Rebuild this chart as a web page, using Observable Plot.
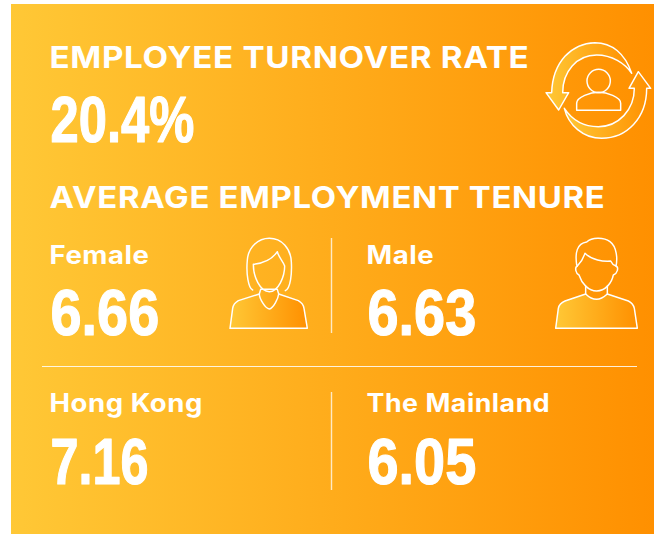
<!DOCTYPE html>
<html>
<head>
<meta charset="utf-8">
<style>html,body{margin:0;padding:0;background:#fff;overflow:hidden}svg{display:block}</style>
<script src="https://cdn.jsdelivr.net/npm/d3@7"></script>
<script src="https://cdn.jsdelivr.net/npm/@observablehq/plot@0.6"></script>
</head>
<body>
<script>
// Values
const headings = ["EMPLOYEE TURNOVER RATE", "AVERAGE EMPLOYMENT TENURE"];
const turnover = "20.4%";
const categories = ["Female", "Male", "Hong Kong", "The Mainland"];
const tenure = ["6.66", "6.63", "7.16", "6.05"];

// Layout (panel pixels)
const W = 654, H = 534;
const colX = [49, 366, 49, 366];
const labelY = [263, 263, 411, 411];
const valueY = [334, 334, 483, 483];
const headingY = [67.5, 207.5];
const headingStretch = [1.125, 1.115];
const labelStretch = [1.1, 1.1, 1.1, 1.07];
const valueStretch = [0.86, 0.86, 0.775, 0.86];

const row = categories.map((c, i) => ({label: c, value: tenure[i], x: colX[i], ly: labelY[i], vy: valueY[i]}));
const heads = headings.map((h, i) => ({h, y: headingY[i]}));

const stretch = (sx, spacing) => (index, scales, values, dims, ctx, next) => {
  const g = next(index, scales, values, dims, ctx);
  if (spacing) g.style.letterSpacing = spacing;
  g.querySelectorAll("text").forEach((t, i) => {
    const k = index[i], x = values.x[k], y = values.y[k];
    t.setAttribute("transform", `translate(${x},${y}) scale(${sx[k]},1)`);
  });
  return g;
};

const icon = (dx, dy, parts) => () => {
  const g = d3.create("svg:g").attr("transform", `translate(${dx},${dy}) scale(${1/3})`)
    .attr("stroke", "#fff").attr("stroke-width", 4.4).attr("stroke-linejoin", "round").attr("stroke-linecap","round");
  parts.forEach(([d, fill]) => g.append("path").attr("d", d).attr("fill", fill ? "url(#grad)" : "none"));
  return g.node();
};

const defs = () => {
  const s = d3.create("svg:defs");
  const lg = s.append("linearGradient").attr("id", "grad");
  lg.append("stop").attr("offset", "0%").attr("stop-color", "#ffc836");
  lg.append("stop").attr("offset", "100%").attr("stop-color", "#ff9000");
  return s.node();
};

const turnoverIcon = [
  ["M305,130 C285,70 245,38 195,38 C125,40 68,95 65,188 L48,188 L86,240 L116,188 L98,188 C98,125 140,75 200,75 C245,75 285,100 305,130 Z", true],
  ["M103,235 C130,275 165,290 205,290 C265,290 313,240 313,175 L297,175 L325,125 L362,175 L350,175 C350,265 290,325 215,325 C160,325 115,285 103,235 Z", true],
  ["M241,153 A35,35 0 1 1 171,153 A35,35 0 1 1 241,153 Z", false],
  ["M140,241 L272,241 L272,220 C272,200 230,187 206,187 C182,187 140,200 140,220 Z", false]
];
const femaleIcon = [
  ["M30,295 L262,295 L252,235 C250,222 242,216 235,212 L176,192 L172,178 L122,178 L118,192 L55,212 C48,216 40,222 38,235 Z", true],
  ["M118,192 C118,205 135,235 148,237 C160,235 175,205 176,192", false],
  ["M98,180 C85,175 78,130 82,90 C85,50 115,25 148,25 C185,25 212,55 214,95 C216,130 212,175 196,182", false],
  ["M100,103 C130,100 155,90 172,65 C175,80 190,95 194,108 C194,140 175,185 148,185 C120,185 100,140 100,103 Z", false]
];
const maleIcon = [
  ["M32,295 L277,295 L268,235 C265,222 258,217 250,213 L187,192 C178,200 165,208 155,208 C145,208 130,200 122,192 L60,213 C50,217 42,225 40,235 Z", true],
  ["M122,168 L122,192 M187,168 L187,192", false],
  ["M95,105 C90,70 95,40 125,36 C140,22 175,20 195,35 C215,50 218,85 213,108 C205,105 200,100 197,93 C175,95 140,90 120,70 C115,85 105,100 97,108", false],
  ["M97,108 C88,112 92,130 102,135 C110,160 130,183 155,183 C180,183 200,160 205,135 C218,130 222,112 213,108", false]
];

const headFont = "Inter, 'Open Sans', sans-serif";
const numFont = "'Liberation Sans', sans-serif";

const chart = Plot.plot({
  width: W, height: H, margin: 0,
  x: {domain: [0, W], range: [0, W], axis: null},
  y: {domain: [0, H], range: [0, H], axis: null},
  style: {background: "transparent"},
  marks: [
    defs,
    Plot.rect([{}], {x1: () => 11, x2: () => W, y1: () => 4, y2: () => H, fill: "url(#grad)"}),
    Plot.ruleX([331], {y1: 238, y2: 333, stroke: "#fff", strokeOpacity: 0.75, strokeWidth: 1.4}),
    Plot.ruleX([331], {y1: 392, y2: 490, stroke: "#fff", strokeOpacity: 0.75, strokeWidth: 1.4}),
    Plot.ruleY([366], {x1: 42, x2: 637, stroke: "#fff", strokeOpacity: 0.85, strokeWidth: 1.2}),
    Plot.text(heads, {x: () => 49, y: "y", text: "h", fill: "#fff", textAnchor: "start", lineAnchor: "bottom",
      fontFamily: headFont, fontWeight: 700, fontSize: 29.5, render: stretch(headingStretch, "0.6px")}),
    Plot.text([turnover], {x: () => 50, y: () => 141, text: d => d, fill: "#fff", stroke: "#fff", strokeWidth: 1.2, textAnchor: "start", lineAnchor: "bottom",
      fontFamily: numFont, fontWeight: 700, fontSize: 65, render: stretch([0.78])}),
    Plot.text(row, {x: "x", y: "ly", text: "label", fill: "#fff", textAnchor: "start", lineAnchor: "bottom",
      fontFamily: headFont, fontWeight: 700, fontSize: 25, render: stretch(labelStretch, "0.5px")}),
    Plot.text(row, {x: d => d.x + 1, y: "vy", text: "value", fill: "#fff", stroke: "#fff", strokeWidth: 1.2, textAnchor: "start", lineAnchor: "bottom",
      fontFamily: numFont, fontWeight: 700, fontSize: 65, render: stretch(valueStretch)}),
    icon(530, 30, turnoverIcon),
    icon(220, 230, femaleIcon),
    icon(545, 230, maleIcon)
  ]
});
document.body.appendChild(chart);
</script>
</body>
</html>
